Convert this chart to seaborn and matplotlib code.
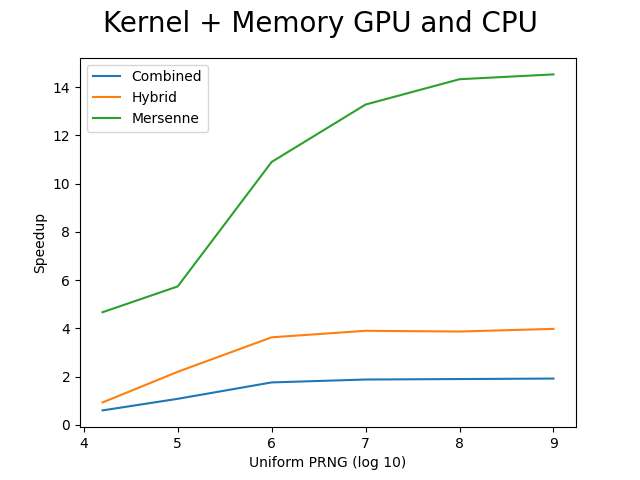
import pandas as pd
import seaborn as sns
import matplotlib.pyplot as plt

x_vals = [4.2, 5, 6, 7, 8, 9]
combined = [0.60, 1.08, 1.76, 1.88, 1.90, 1.92]
hybrid = [0.93, 2.2, 3.63, 3.9, 3.87, 3.98]
mersenne = [4.67, 5.74, 10.9, 13.28, 14.33, 14.53]

df = pd.DataFrame({
    "x": x_vals * 3,
    "Speedup": combined + hybrid + mersenne,
    "PRNG": ["Combined"] * 6 + ["Hybrid"] * 6 + ["Mersenne"] * 6,
})

fig, ax = plt.subplots(figsize=(6.4, 4.8), dpi=100)
sns.lineplot(data=df, x="x", y="Speedup", hue="PRNG", palette="tab10", ax=ax)
ax.legend(loc="upper left")
ax.set_xlabel("Uniform PRNG (log 10)")
ax.set_ylabel("Speedup")
fig.suptitle("Kernel + Memory GPU and CPU", fontsize=20)
fig.savefig("out.png")
